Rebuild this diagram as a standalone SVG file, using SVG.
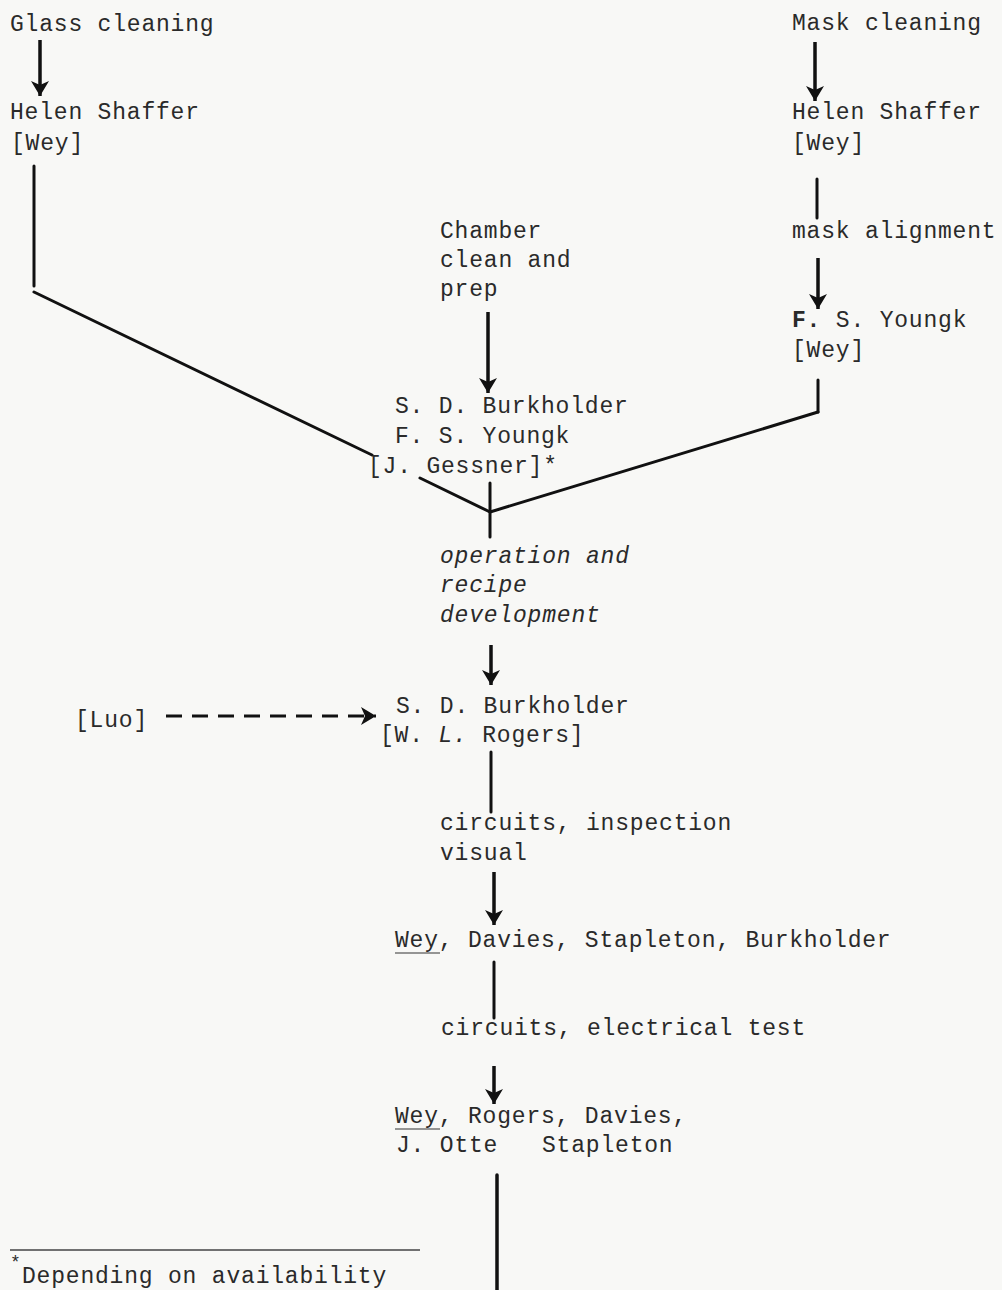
<svg xmlns="http://www.w3.org/2000/svg" width="1002" height="1290" viewBox="0 0 1002 1290">
<defs>
<style>
text{font-family:"Liberation Mono","DejaVu Sans Mono",monospace;font-size:23px;letter-spacing:0.8px;fill:#2a2a2a;white-space:pre}
.it{font-style:italic}
.ln{stroke:#111;stroke-width:3;fill:none;stroke-linecap:round}
.ar{stroke:#111;stroke-width:3.5;fill:none;marker-end:url(#ah)}
.dash{stroke:#111;stroke-width:3;stroke-dasharray:16 10;fill:none;marker-end:url(#ah)}
</style>
<marker id="ah" markerUnits="userSpaceOnUse" viewBox="0 0 16 18" refX="15" refY="9" markerWidth="16" markerHeight="18" orient="auto">
<path d="M0,0 L15,9 L0,18 L4,9 Z" fill="#111"/>
</marker>
</defs>
<rect width="1002" height="1290" fill="#f8f8f6"/>

<g id="connectors">
<line class="ar" x1="40" y1="40" x2="40" y2="96"/>
<line class="ln" x1="34" y1="166" x2="34" y2="286"/>
<line class="ln" x1="34" y1="292" x2="372" y2="455"/>
<line class="ln" x1="420" y1="478" x2="490" y2="512"/>
<line class="ar" x1="815" y1="42" x2="815" y2="101"/>
<line class="ln" x1="817" y1="179" x2="817" y2="218"/>
<line class="ar" x1="818" y1="258" x2="818" y2="309"/>
<line class="ln" x1="818" y1="380" x2="818" y2="412"/>
<line class="ln" x1="818" y1="412" x2="490" y2="512"/>
<line class="ar" x1="488" y1="312" x2="488" y2="393"/>
<line class="ln" x1="490" y1="483" x2="490" y2="537"/>
<line class="ar" x1="491" y1="645" x2="491" y2="685"/>
<line class="dash" x1="166" y1="716" x2="376" y2="716"/>
<line class="ln" x1="491" y1="752" x2="491" y2="812"/>
<line class="ar" x1="494" y1="872" x2="494" y2="925"/>
<line class="ln" x1="494" y1="962" x2="494" y2="1018"/>
<line class="ar" x1="494" y1="1066" x2="494" y2="1104"/>
<line class="ln" x1="497" y1="1175" x2="497" y2="1290" style="stroke-width:3.5"/>
</g>

<g id="glass-cleaning"><text x="10" y="31">Glass cleaning</text></g>
<g id="helen-left"><text x="10" y="119">Helen Shaffer</text><text x="11" y="150">[Wey]</text></g>
<g id="mask-cleaning"><text x="792" y="30">Mask cleaning</text></g>
<g id="helen-right"><text x="792" y="119">Helen Shaffer</text><text x="792" y="150">[Wey]</text></g>
<g id="mask-alignment"><text x="792" y="238">mask alignment</text></g>
<g id="youngk-right"><text x="792" y="327"><tspan font-weight="bold">F.</tspan> S. Youngk</text><text x="792" y="357">[Wey]</text></g>
<g id="chamber"><text x="440" y="238">Chamber</text><text x="440" y="267">clean and</text><text x="440" y="296">prep</text></g>
<g id="burkholder-group"><text x="395" y="413">S. D. Burkholder</text><text x="395" y="443">F. S. Youngk</text><text x="368" y="473">[J. Gessner]*</text></g>
<g id="operation"><text class="it" x="440" y="563">operation and</text><text class="it" x="440" y="592">recipe</text><text class="it" x="440" y="622">development</text></g>
<g id="luo"><text x="75" y="727">[Luo]</text></g>
<g id="burkholder-rogers"><text x="396" y="713">S. D. Burkholder</text><text x="380" y="742">[W. <tspan class="it">L.</tspan> Rogers]</text></g>
<g id="inspection"><text x="440" y="830">circuits, inspection</text><text x="440" y="860">visual</text></g>
<g id="wey-davies"><text x="395" y="947">Wey, Davies, Stapleton, Burkholder</text><line x1="395" y1="953" x2="440" y2="953" stroke="#333" stroke-width="1.2"/></g>
<g id="electrical"><text x="441" y="1035">circuits, electrical test</text></g>
<g id="wey-rogers"><text x="395" y="1123">Wey, Rogers, Davies,</text><line x1="395" y1="1129" x2="440" y2="1129" stroke="#333" stroke-width="1.2"/><text x="396" y="1152">J. Otte   Stapleton</text></g>
<g id="footnote"><line x1="10" y1="1250" x2="420" y2="1250" stroke="#444" stroke-width="1.5"/><text x="10" y="1268" style="font-size:18px">*</text><text x="22" y="1283">Depending on availability</text></g>
</svg>
